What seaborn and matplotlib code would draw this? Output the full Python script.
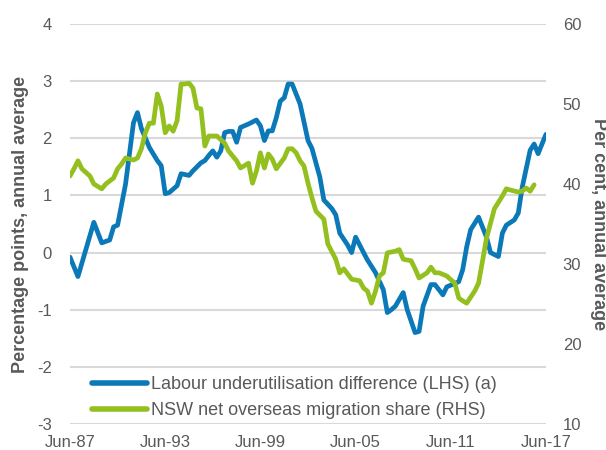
import numpy as np
import pandas as pd
import matplotlib
matplotlib.use("Agg")
import matplotlib.pyplot as plt
import matplotlib.dates as mdates
import seaborn as sns

# Labour underutilisation difference (LHS), percentage points
lhs_dates = [
    "1987-06", "1987-12", "1988-12", "1989-06", "1989-12", "1990-03", "1990-06",
    "1990-12", "1991-06", "1991-09", "1991-12", "1992-06", "1992-12", "1993-03",
    "1993-06", "1993-09", "1994-03", "1994-06", "1994-12", "1995-03", "1995-09",
    "1995-12", "1996-03", "1996-06", "1996-09", "1996-12", "1997-03", "1997-06",
    "1997-09", "1997-12", "1998-03", "1998-09", "1999-03", "1999-06", "1999-09",
    "1999-12", "2000-03", "2000-06", "2000-09", "2000-12", "2001-03", "2001-06",
    "2001-12", "2002-06", "2002-09", "2003-03", "2003-06", "2003-12", "2004-03",
    "2004-06", "2004-12", "2005-03", "2005-06", "2005-12", "2006-03", "2006-09",
    "2007-03", "2007-06", "2007-09", "2007-12", "2008-06", "2008-09", "2009-03",
    "2009-06", "2009-09", "2010-03", "2010-06", "2010-12", "2011-03", "2011-12",
    "2012-03", "2012-06", "2012-09", "2013-03", "2013-09", "2013-12", "2014-06",
    "2014-09", "2014-12", "2015-06", "2015-09", "2015-12", "2016-06", "2016-09",
    "2016-12", "2017-03", "2017-06",
]
lhs_values = [
    -0.08, -0.42, 0.53, 0.17, 0.22, 0.45, 0.48,
    1.20, 2.27, 2.45, 2.17, 1.84, 1.61, 1.52,
    1.03, 1.05, 1.17, 1.38, 1.35, 1.43, 1.57,
    1.61, 1.70, 1.78, 1.67, 1.78, 2.10, 2.12,
    2.12, 1.93, 2.19, 2.25, 2.32, 2.22, 1.96,
    2.13, 2.13, 2.36, 2.65, 2.71, 2.95, 2.95,
    2.60, 1.96, 1.82, 1.32, 0.92, 0.77, 0.66,
    0.34, 0.13, 0.00, 0.27, 0.00, -0.13, -0.35,
    -0.65, -1.05, -1.00, -0.94, -0.70, -1.00, -1.40,
    -1.38, -0.94, -0.56, -0.56, -0.74, -0.60, -0.51,
    -0.30, 0.10, 0.40, 0.62, 0.27, 0.00, -0.07,
    0.34, 0.48, 0.57, 0.69, 1.14, 1.79, 1.90,
    1.73, 1.90, 2.07,
]

# NSW net overseas migration share (RHS), per cent
rhs_dates = [
    "1987-06", "1987-09", "1987-12", "1988-03", "1988-09", "1988-12", "1989-06",
    "1989-09", "1990-03", "1990-06", "1990-09", "1990-12", "1991-06", "1991-09",
    "1991-12", "1992-03", "1992-06", "1992-09", "1992-12", "1993-03", "1993-06",
    "1993-09", "1993-12", "1994-03", "1994-06", "1994-09", "1994-12", "1995-03",
    "1995-06", "1995-09", "1995-12", "1996-03", "1996-09", "1997-03", "1997-06",
    "1997-12", "1998-03", "1998-09", "1998-12", "1999-03", "1999-06", "1999-09",
    "1999-12", "2000-03", "2000-06", "2000-12", "2001-03", "2001-06", "2001-09",
    "2001-12", "2002-03", "2002-06", "2002-09", "2002-12", "2003-06", "2003-09",
    "2004-03", "2004-06", "2004-09", "2005-03", "2005-09", "2005-12", "2006-03",
    "2006-06", "2006-09", "2006-12", "2007-03", "2007-06", "2007-12", "2008-03",
    "2008-06", "2008-12", "2009-03", "2009-06", "2009-12", "2010-03", "2010-06",
    "2010-09", "2011-03", "2011-09", "2011-12", "2012-03", "2012-06", "2012-12",
    "2013-03", "2013-06", "2013-09", "2014-03", "2014-09", "2014-12", "2015-03",
    "2015-09", "2015-12", "2016-03", "2016-06", "2016-09",
]
rhs_values = [
    41.0, 41.9, 42.9, 41.9, 41.0, 40.0, 39.4,
    40.0, 40.75, 41.9, 42.5, 43.25, 43.0, 43.25,
    44.4, 46.4, 47.6, 47.6, 51.25, 49.75, 46.4,
    47.25, 46.6, 47.9, 52.5, 52.5, 52.6, 52.0,
    49.5, 49.4, 44.75, 46.0, 46.0, 45.1, 44.1,
    42.9, 42.0, 42.6, 40.1, 41.6, 43.9, 42.0,
    43.75, 43.1, 41.9, 43.25, 44.4, 44.4, 43.9,
    42.9, 42.25, 40.1, 38.25, 36.6, 35.6, 32.5,
    30.6, 28.9, 29.4, 28.1, 27.9, 27.0, 26.6,
    25.1, 26.6, 28.5, 28.9, 31.4, 31.6, 31.8,
    30.6, 30.4, 29.4, 28.25, 28.9, 29.6, 28.9,
    28.9, 28.5, 27.6, 25.75, 25.4, 25.1, 26.6,
    27.6, 30.4, 33.25, 36.9, 38.5, 39.4, 39.25,
    39.0, 39.1, 39.5, 39.1, 39.9,
]

lhs_label = "Labour underutilisation difference (LHS) (a)"
rhs_label = "NSW net overseas migration share (RHS)"
xtick_years = [1987, 1993, 1999, 2005, 2011, 2017]

blue = "#0B78B8"
green = "#93C01F"
grey_text = "#595959"
grid_col = "#D9D9D9"

sns.set_style("white")
plt.rcParams["font.family"] = ["Liberation Sans", "DejaVu Sans"]
plt.rcParams["axes.unicode_minus"] = False

df_lhs = pd.DataFrame({"date": pd.to_datetime(lhs_dates), "value": lhs_values})
df_rhs = pd.DataFrame({"date": pd.to_datetime(rhs_dates), "value": rhs_values})

fig = plt.figure(figsize=(6.06, 4.5), dpi=100)
ax = fig.add_axes([70 / 606, 1 - 424 / 450, 476 / 606, 400 / 450])
ax2 = ax.twinx()

sns.lineplot(data=df_lhs, x="date", y="value", ax=ax, color=blue, lw=3.4,
             legend=False, solid_capstyle="round")
sns.lineplot(data=df_rhs, x="date", y="value", ax=ax2, color=green, lw=3.4,
             legend=False, solid_capstyle="round")

ax.set_ylim(-3, 4)
ax.set_yticks(np.arange(-3, 5, 1))
ax2.set_ylim(10, 60)
ax2.set_yticks(np.arange(10, 70, 10))
ax.set_xlim(pd.Timestamp("1987-06-01"), pd.Timestamp("2017-06-01"))
ax.set_xticks([pd.Timestamp(f"{y}-06-01") for y in xtick_years])
ax.xaxis.set_major_formatter(mdates.DateFormatter("%b-%y"))

ax.grid(axis="y", color=grid_col, lw=1.5)
ax.set_axisbelow(True)
for a in (ax, ax2):
    for s in a.spines.values():
        s.set_visible(False)
    a.set_xlabel("")

ax.tick_params(axis="y", length=0, pad=13, labelsize=12, labelcolor=grey_text)
ax.tick_params(axis="x", length=0, pad=8, labelsize=12, labelcolor=grey_text)
ax2.tick_params(axis="y", length=0, pad=12, labelsize=12, labelcolor=grey_text)

ax.set_ylabel("Percentage points, annual average", fontsize=13,
              fontweight="bold", color=grey_text)
ax.yaxis.set_label_coords(-0.087, 0.5)
ax2.set_ylabel("Per cent, annual average", fontsize=13, fontweight="bold",
               color=grey_text, rotation=270, va="center")
ax2.yaxis.set_label_coords(1.11, 0.5)

handles = [ax.get_lines()[0], ax2.get_lines()[0]]
leg = ax2.legend(handles, [lhs_label, rhs_label], loc="upper left",
                 bbox_to_anchor=(92 / 606, 1 - 376 / 450),
                 bbox_transform=fig.transFigure, frameon=False,
                 fontsize=13, handlelength=3.05, handletextpad=0.22,
                 borderpad=0, borderaxespad=0, labelspacing=0.5)
for t in leg.get_texts():
    t.set_color(grey_text)
for h in leg.legend_handles:
    h.set_linewidth(4)

fig.savefig("out.png", dpi=100)
